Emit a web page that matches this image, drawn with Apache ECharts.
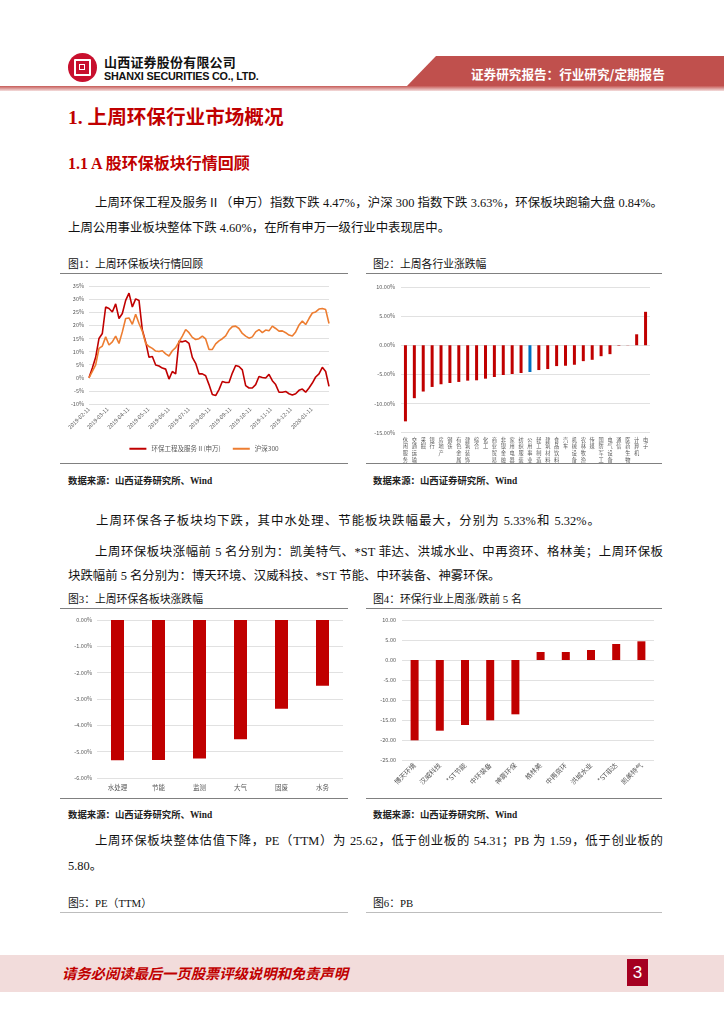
<!DOCTYPE html>
<html><head><meta charset="utf-8">
<script src="https://cdn.jsdelivr.net/npm/echarts@6/dist/echarts.min.js"></script>
<style>
html,body{margin:0;padding:0;background:#fff;}
body{width:724px;height:1024px;position:relative;overflow:hidden;font-family:"Liberation Serif","Noto Sans CJK SC",serif;color:#111;}
.a{position:absolute;white-space:nowrap;}
.p{font-size:12.4px;line-height:14px;}
.j{text-align:justify;text-align-last:justify;}
.h1{font-family:"Liberation Serif","Noto Sans CJK SC";font-weight:bold;color:#C00000;font-size:19.6px;}
.h2{font-family:"Liberation Serif","Noto Sans CJK SC";font-weight:bold;color:#C00000;font-size:16px;}
.cap{font-size:10.8px;font-family:"Liberation Serif","Noto Sans CJK SC";}
.src{font-size:9.4px;font-family:"Liberation Serif","Noto Sans CJK SC";font-weight:bold;color:#222;}
.ln{position:absolute;height:1.3px;background:#808080;}
.chart{position:absolute;}
</style></head>
<body>
<!-- header -->
<div class="a" style="left:68px;top:53px;width:29px;height:29px;border-radius:50%;background:#C8102E;"></div>
<div class="a" style="left:74px;top:59px;width:13px;height:13px;border:2.2px solid #fff;border-radius:1px;"></div>
<div class="a" style="left:79px;top:64px;width:4px;height:4px;border:1.6px solid #fff;"></div>
<div class="a" style="left:104px;top:52px;font-family:'Noto Sans CJK SC';font-weight:bold;font-size:13px;letter-spacing:0.2px;color:#111;">山西证券股份有限公司</div>
<div class="a" style="left:104px;top:70px;font-family:'Liberation Sans';font-weight:bold;font-size:10.8px;color:#111;letter-spacing:-0.2px;">SHANXI SECURITIES CO., LTD.</div>
<div class="a" style="left:0;top:56px;width:724px;height:31px;background:#C0504D;clip-path:polygon(436px 0,724px 0,724px 31px,406px 31px);"></div>
<div class="a" style="left:0;top:86px;width:724px;height:5px;background:linear-gradient(#C65A57,#F4DEDD);"></div>
<div class="a" style="left:471px;top:64px;font-family:'Noto Sans CJK SC';font-weight:bold;font-size:12.6px;color:#fff;">证券研究报告：行业研究/定期报告</div>

<div class="a h1" style="left:68px;top:101px;">1. 上周环保行业市场概况</div>
<div class="a h2" style="left:68px;top:150px;">1.1 A 股环保板块行情回顾</div>

<div class="a p j" style="left:95px;top:196px;width:568px;">上周环保工程及服务Ⅱ（申万）指数下跌 4.47%，沪深 300 指数下跌 3.63%，环保板块跑输大盘 0.84%。</div>
<div class="a p j" style="left:68px;top:221px;width:382px;">上周公用事业板块整体下跌 4.60%，在所有申万一级行业中表现居中。</div>

<div class="a cap" style="left:68px;top:255px;">图1：上周环保板块行情回顾</div>
<div class="a cap" style="left:373px;top:255px;">图2：上周各行业涨跌幅</div>
<div class="ln" style="left:60px;top:273px;width:288px;"></div>
<div class="ln" style="left:366px;top:273px;width:296px;"></div>
<div class="chart" id="c1" style="left:60px;top:274px;width:288px;height:189px;"></div>
<div class="chart" id="c2" style="left:366px;top:274px;width:296px;height:189px;"></div>
<div class="ln" style="left:60px;top:463px;width:288px;"></div>
<div class="ln" style="left:366px;top:463px;width:296px;"></div>
<div class="a src" style="left:68px;top:473px;">数据来源：山西证券研究所、Wind</div>
<div class="a src" style="left:373px;top:473px;">数据来源：山西证券研究所、Wind</div>

<div class="a p j" style="left:96px;top:514px;width:504px;">上周环保各子板块均下跌，其中水处理、节能板块跌幅最大，分别为 5.33%和 5.32%。</div>
<div class="a p j" style="left:95px;top:545px;width:568px;">上周环保板块涨幅前 5 名分别为：凯美特气、*ST 菲达、洪城水业、中再资环、格林美；上周环保板</div>
<div class="a p" style="left:68px;top:569px;">块跌幅前 5 名分别为：博天环境、汉威科技、*ST 节能、中环装备、神雾环保。</div>

<div class="a cap" style="left:68px;top:590px;">图3：上周环保各板块涨跌幅</div>
<div class="a cap" style="left:373px;top:590px;">图4：环保行业上周涨/跌前 5 名</div>
<div class="ln" style="left:60px;top:608px;width:288px;"></div>
<div class="ln" style="left:366px;top:608px;width:296px;"></div>
<div class="chart" id="c3" style="left:60px;top:609px;width:288px;height:189px;"></div>
<div class="chart" id="c4" style="left:366px;top:609px;width:296px;height:189px;"></div>
<div class="ln" style="left:60px;top:798px;width:288px;"></div>
<div class="ln" style="left:366px;top:798px;width:296px;"></div>
<div class="a src" style="left:68px;top:807px;">数据来源：山西证券研究所、Wind</div>
<div class="a src" style="left:373px;top:807px;">数据来源：山西证券研究所、Wind</div>

<div class="a p j" style="left:95px;top:834px;width:568px;">上周环保板块整体估值下降，PE（TTM）为 25.62，低于创业板的 54.31；PB 为 1.59，低于创业板的</div>
<div class="a p" style="left:68px;top:859px;">5.80。</div>

<div class="a cap" style="left:68px;top:894px;">图5：PE（TTM）</div>
<div class="a cap" style="left:373px;top:894px;">图6：PB</div>
<div class="ln" style="left:60px;top:912px;width:288px;background:#bdbdbd;"></div>
<div class="ln" style="left:366px;top:912px;width:296px;background:#bdbdbd;"></div>

<!-- footer -->
<div class="a" style="left:0;top:955px;width:724px;height:37px;background:#F2DCDB;"></div>
<div class="a" style="left:62px;top:962px;font-family:'Noto Sans CJK SC';font-weight:bold;font-style:italic;font-size:14.3px;color:#C00000;">请务必阅读最后一页股票评级说明和免责声明</div>
<div class="a" style="left:627px;top:959px;width:21px;height:27px;background:#A50021;color:#fff;font-family:'Liberation Sans';font-size:17px;line-height:27px;text-align:center;">3</div>

<script>
// ---------- Figure 1 data ----------
var dates1 = ['2019-02-11','2019-02-16','2019-02-21','2019-02-26','2019-03-03','2019-03-08','2019-03-13','2019-03-18','2019-03-23','2019-03-28',
'2019-04-02','2019-04-07','2019-04-12','2019-04-17','2019-04-22','2019-04-27','2019-05-02','2019-05-07','2019-05-12','2019-05-17','2019-05-22','2019-05-27',
'2019-06-01','2019-06-06','2019-06-11','2019-06-16','2019-06-21','2019-06-26','2019-07-01','2019-07-06','2019-07-11','2019-07-16','2019-07-21','2019-07-26','2019-07-31',
'2019-08-05','2019-08-10','2019-08-15','2019-08-20','2019-08-25','2019-08-30','2019-09-04','2019-09-09','2019-09-14','2019-09-19','2019-09-24','2019-09-29',
'2019-10-04','2019-10-09','2019-10-14','2019-10-19','2019-10-24','2019-10-29','2019-11-03','2019-11-08','2019-11-13','2019-11-18','2019-11-23','2019-11-28',
'2019-12-03','2019-12-08','2019-12-13','2019-12-18','2019-12-23','2019-12-28','2020-01-02','2020-01-07','2020-01-12','2020-01-17','2020-01-22','2020-01-27',
'2020-02-01','2020-02-06'];
var envIndex = [0,3.7,7.8,15.0,16.9,27.0,26.4,25.1,28.2,22.6,24.5,29.5,32.3,27.0,30.1,29.5,18.2,13.7,7.8,8.1,4.9,4.5,3.7,3.3,-0.5,2.4,1.5,14.0,13.7,14.1,13.1,7.8,5.5,1.5,1.5,0.8,
-2.6,-6.4,-6.8,-4.5,-1.4,-1.8,-1.8,1.8,4.7,4.3,3.0,-3.0,-3.9,-3.9,-2.6,0.5,0.1,-0.1,1.3,-1.1,-2.6,-5.5,-5.5,-5.2,-6.1,-6.6,-6.1,-4.8,-4.3,-5.5,-3.9,-2.0,0.3,1.5,4.0,2.4,-3.3];
var hs300 = [0,2.4,4.9,11.2,12.1,15.6,12.5,13.7,15.9,13.1,17.5,22.6,22.8,20.4,24.2,20.7,17.8,13.1,11.9,11.2,10.2,10.0,10.3,9.1,8.3,10.3,11.5,13.7,15.9,18.4,17.2,15.4,14.6,14.9,15.9,14.8,
10.8,10.8,12.9,14.1,14.9,16.0,18.2,19.5,19.7,18.8,16.9,15.9,15.1,15.6,17.5,18.4,17.2,18.2,17.9,19.7,18.8,17.8,17.9,17.2,16.3,15.9,17.5,20.1,21.6,20.3,22.6,24.7,25.1,26.2,26.4,26.0,20.7];
var tickDates1 = ['2019-02-11','2019-03-11','2019-04-11','2019-05-11','2019-06-11','2019-07-11','2019-08-11','2019-09-11','2019-10-11','2019-11-11','2019-12-11','2020-01-11'];
var names1 = ['环保工程及服务Ⅱ(申万)','沪深300'];

// ---------- Figure 2 data ----------
var cats2 = ['休闲服务','交通运输','采掘','银行','房地产','钢铁','有色金属','建筑装饰','综合','化工','商业贸易','非银金融','家用电器','纺织服装','公用事业','轻工制造','建筑材料','食品饮料','汽车','机械设备','农林牧渔','传媒','国防军工','电气设备','通信','医药生物','计算机','电子'];
var vals2 = [-13.07,-9.09,-7.95,-7.16,-6.70,-6.48,-6.30,-6.08,-6.02,-5.74,-5.45,-5.11,-4.94,-4.77,-4.60,-4.26,-4.09,-3.58,-3.52,-3.35,-2.73,-2.50,-1.88,-1.53,-0.08,0.03,1.88,5.74];
var highlight2 = '公用事业';

// ---------- Figure 3 data ----------
var cats3 = ['水处理','节能','监测','大气','固废','水务'];
var vals3 = [-5.33,-5.32,-5.26,-4.53,-3.37,-2.50];

// ---------- Figure 4 data ----------
var cats4 = ['博天环境','汉威科技','*ST节能','中环装备','神雾环保','格林美','中再资环','洪城水业','*ST菲达','凯美特气'];
var vals4 = [-20.08,-17.67,-16.25,-15.08,-13.58,2.00,2.00,2.50,4.00,4.67];

var RED = '#C00000', ORANGE = '#ED7D31', BLUE = '#0070C0';
var TXT = '#595959', GRID = '#D9D9D9';
var FF = 'Noto Sans CJK SC';

function pad(n){return n<10?'0'+n:''+n;}
function ts(s){var p=s.split('-');return Date.UTC(+p[0],+p[1]-1,+p[2]);}
function fmtDate(v){var d=new Date(v);return d.getUTCFullYear()+'-'+pad(d.getUTCMonth()+1)+'-'+pad(d.getUTCDate());}

function safe(fn){try{fn();}catch(e){console.log(e);}}

safe(function(){
var c1 = echarts.init(document.getElementById('c1'));
var tickTs = tickDates1.map(ts);
c1.setOption({
  animation:false,
  textStyle:{fontFamily:FF},
  grid:{left:29,right:19,top:12,bottom:59},
  legend:{bottom:6,left:'center',itemWidth:17,itemHeight:2,itemGap:12,icon:'rect',
    textStyle:{fontSize:6.5,color:TXT,fontFamily:FF},data:names1},
  xAxis:{type:'value',min:ts(dates1[0]),max:ts(dates1[dates1.length-1]),
    axisLine:{show:false},axisTick:{show:false,customValues:tickTs},splitLine:{show:false},
    axisLabel:{customValues:tickTs,rotate:45,fontSize:5.5,color:TXT,margin:4,formatter:fmtDate,showMinLabel:true,showMaxLabel:true}},
  yAxis:{type:'value',min:-10,max:35,interval:5,
    axisLabel:{formatter:function(v){return v+'%';},fontSize:5.5,color:TXT,margin:5},
    splitLine:{lineStyle:{color:GRID,width:0.8}},axisLine:{show:false},axisTick:{show:false}},
  series:[
    {name:names1[0],type:'line',symbol:'none',lineStyle:{color:RED,width:1.6},itemStyle:{color:RED},
      data:dates1.map(function(d,i){return [ts(d),envIndex[i]];})},
    {name:names1[1],type:'line',symbol:'none',lineStyle:{color:ORANGE,width:1.6},itemStyle:{color:ORANGE},
      data:dates1.map(function(d,i){return [ts(d),hs300[i]];})}
  ]
});
});

safe(function(){
var c2 = echarts.init(document.getElementById('c2'));
c2.setOption({
  animation:false,
  textStyle:{fontFamily:FF},
  grid:{left:35,right:12,top:13,bottom:30},
  xAxis:{type:'category',data:cats2,position:'bottom',
    axisLine:{show:false,onZero:false},axisTick:{show:false},
    axisLabel:{interval:0,fontSize:5.2,lineHeight:6.6,color:TXT,margin:4,verticalAlign:'top',
      formatter:function(v){return v.split('').join('\n');}}},
  yAxis:{type:'value',min:-15,max:10,interval:5,
    axisLabel:{formatter:function(v){return v.toFixed(2)+'%';},fontSize:5.5,color:TXT,margin:6},
    splitLine:{lineStyle:{color:GRID,width:0.8}},axisLine:{show:false},axisTick:{show:false}},
  series:[{type:'bar',barWidth:3,
    data:vals2.map(function(v,i){return {value:v,itemStyle:{color:cats2[i]===highlight2?BLUE:RED}};})}]
});
});

safe(function(){
var c3 = echarts.init(document.getElementById('c3'));
c3.setOption({
  animation:false,
  textStyle:{fontFamily:FF},
  grid:{left:37,right:5,top:11,bottom:20},
  xAxis:{type:'category',data:cats3,position:'bottom',
    axisLine:{show:false,onZero:false},axisTick:{show:false},
    axisLabel:{interval:0,fontSize:6.5,color:TXT,margin:6}},
  yAxis:{type:'value',min:-6,max:0,interval:1,
    axisLabel:{formatter:function(v){return v.toFixed(2)+'%';},fontSize:5.5,color:TXT,margin:5},
    splitLine:{lineStyle:{color:GRID,width:0.8}},axisLine:{show:false},axisTick:{show:false}},
  series:[{type:'bar',barWidth:13,itemStyle:{color:RED},data:vals3}]
});
});

safe(function(){
var c4 = echarts.init(document.getElementById('c4'));
c4.setOption({
  animation:false,
  textStyle:{fontFamily:FF},
  grid:{left:36,right:8,top:11,bottom:38},
  xAxis:{type:'category',data:cats4,position:'bottom',
    axisLine:{show:false,onZero:false},axisTick:{show:false},
    axisLabel:{interval:0,fontSize:6.8,color:TXT,margin:4,rotate:45}},
  yAxis:{type:'value',min:-25,max:10,interval:5,
    axisLabel:{formatter:function(v){return v.toFixed(2);},fontSize:5.5,color:TXT,margin:6},
    splitLine:{lineStyle:{color:GRID,width:0.8}},axisLine:{show:false},axisTick:{show:false}},
  series:[{type:'bar',barWidth:8,itemStyle:{color:RED},data:vals4}]
});
});
</script>
</body></html>
